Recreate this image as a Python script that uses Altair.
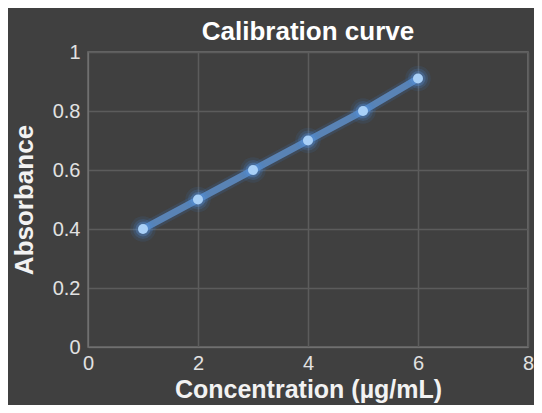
import altair as alt
import pandas as pd

concentration = [1, 2, 3, 4, 5, 6]
absorbance = [0.40, 0.50, 0.60, 0.70, 0.80, 0.91]

x_ticks = [0, 2, 4, 6, 8]
y_ticks = [0, 0.2, 0.4, 0.6, 0.8, 1]

df = pd.DataFrame({"Concentration": concentration, "Absorbance": absorbance})

FONT = "Liberation Sans"

x = alt.X(
    "Concentration:Q",
    scale=alt.Scale(domain=[0, 8], nice=False),
    axis=alt.Axis(
        values=x_ticks,
        title="Concentration (µg/mL)",
        labelFontSize=20,
        labelColor="#e2e2e2",
        labelFont=FONT,
        labelPadding=6,
        titleFontSize=25,
        titleFont=FONT,
        titleFontWeight="bold",
        titleColor="#f2f2f2",
        titlePadding=4,
        ticks=False,
        domainColor="#707070",
        gridColor="#5c5c5c",
        gridWidth=1.5,
        labelFlush=False,
    ),
)
y = alt.Y(
    "Absorbance:Q",
    scale=alt.Scale(domain=[0, 1], nice=False),
    axis=alt.Axis(
        values=y_ticks,
        format="~g",
        title="Absorbance",
        labelFontSize=20,
        labelColor="#e2e2e2",
        labelFont=FONT,
        labelPadding=8,
        titleFontSize=26,
        titleFont=FONT,
        titleFontWeight="bold",
        titleColor="#f2f2f2",
        titlePadding=15,
        ticks=False,
        domainColor="#707070",
        gridColor="#5c5c5c",
        gridWidth=1.5,
        labelFlush=False,
    ),
)

base = alt.Chart(df).encode(x=x, y=y)

line_glow = base.mark_line(color="#3a72b8", strokeWidth=12, opacity=0.2)
line = base.mark_line(color="#5b86bb", strokeWidth=7, opacity=0.95)
glow1 = base.mark_circle(color="#3f86e0", size=650, opacity=0.10)
glow2 = base.mark_circle(color="#4a90e6", size=400, opacity=0.16)
glow3 = base.mark_circle(color="#5a9ced", size=230, opacity=0.25)
points = base.mark_circle(color="#a9d0f7", size=100, opacity=1)

chart = (
    alt.layer(line_glow, line, glow1, glow2, glow3, points)
    .properties(
        width=440,
        height=295,
        title=alt.Title(
            "Calibration curve",
            fontSize=26,
            font=FONT,
            fontWeight="bold",
            color="#ffffff",
            anchor="middle",
            offset=8,
            dy=11,
        ),
        autosize=alt.AutoSizeParams(type="none"),
        padding={"left": 80, "top": 44, "right": 6, "bottom": 58},
        background="#404040",
    )
    .configure_view(stroke="#707070", strokeWidth=1.5)
)

chart.save("out.html", embed_options={"renderer": "svg", "actions": False})
